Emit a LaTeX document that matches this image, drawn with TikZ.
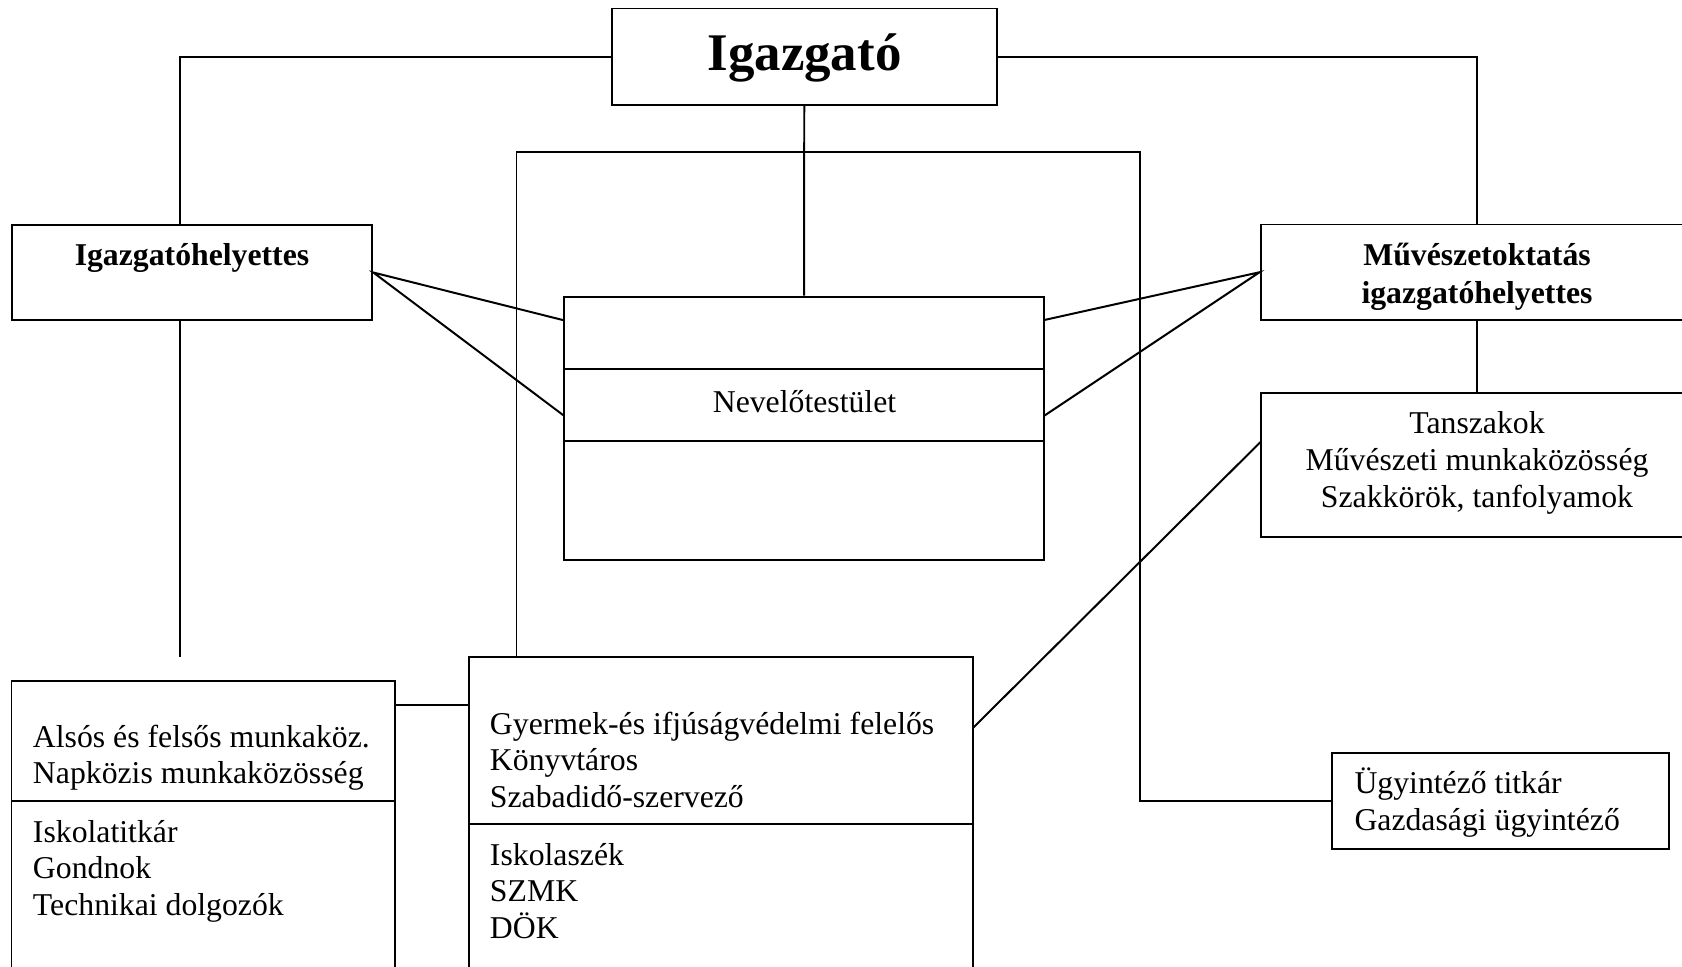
\documentclass[tikz,border=0pt]{standalone}
\usepackage{fontspec}
\setmainfont{Liberation Serif}
\usetikzlibrary{fit}

\tikzset{
  box/.style={draw, inner sep=0pt},
  txt/.style={inner sep=0pt, font=\fontsize{12}{14}\selectfont},
  btxt/.style={inner sep=0pt, font=\fontsize{12}{14}\selectfont\bfseries},
}

\begin{document}
\begin{tikzpicture}[x=0.378pt, y=-0.378pt, line width=0.75pt]
  \useasboundingbox (0,0) rectangle (1682,966);
  \clip (0,0) rectangle (1682,966);

  % boxes
  \node[box, fit={(612,8.5) (996.5,105)}] (igazgato) {};
  \node[box, fit={(12.3,224.7) (372.3,320.3)}] (igh) {};
  \node[box, fit={(1260.5,224.5) (1693.5,320)}] (muv) {};
  \node[box, fit={(564,296.7) (1044.3,368.7)}] (nev-top) {};
  \node[box, fit={(564,368.7) (1044.3,441)}] (nev) {};
  \node[box, fit={(564,441) (1044.3,560.3)}] (nev-bot) {};
  \node[box, fit={(1260.5,392.7) (1693.5,536.7)}] (tansz) {};
  \node[box, fit={(11.5,680.7) (395.4,801)}] (alsos-top) {};
  \node[box, fit={(11.5,801) (395.4,1000)}] (alsos-bot) {};
  \node[box, fit={(468.7,656.7) (972.6,824)}] (gy-top) {};
  \node[box, fit={(468.7,824) (972.6,1000)}] (gy-bot) {};
  \node[box, fit={(1332,752.7) (1669,849)}] (ugy) {};

  % texts
  \node[inner sep=0pt, font=\fontsize{20}{24}\selectfont\bfseries, anchor=base] (igazgato-t) at (804.5,71) {Igazgató};
  \node[btxt, anchor=base] (igh-t) at (192,265) {Igazgatóhelyettes};
  \node[btxt, anchor=base] (muv-t1) at (1477,265) {Művészetoktatás};
  \node[btxt, anchor=base] (muv-t2) at (1477,303) {igazgatóhelyettes};
  \node[txt, anchor=base] (nev-t) at (804.5,412) {Nevelőtestület};
  \node[txt, anchor=base] (tansz-t1) at (1477,433) {Tanszakok};
  \node[txt, anchor=base] (tansz-t2) at (1477,470.5) {Művészeti munkaközösség};
  \node[txt, anchor=base] (tansz-t3) at (1477,507) {Szakkörök, tanfolyamok};
  \node[txt, anchor=base west] (alsos-t1) at (32,747) {Alsós és felsős munkaköz.};
  \node[txt, anchor=base west] (alsos-t2) at (32,783) {Napközis munkaközösség};
  \node[txt, anchor=base west] (alsos-t3) at (32,842) {Iskolatitkár};
  \node[txt, anchor=base west] (alsos-t4) at (32,878.5) {Gondnok};
  \node[txt, anchor=base west] (alsos-t5) at (32,915) {Technikai dolgozók};
  \node[txt, anchor=base west] (gy-t1) at (489,734) {Gyermek-és ifjúságvédelmi felelős};
  \node[txt, anchor=base west] (gy-t2) at (489,770.5) {Könyvtáros};
  \node[txt, anchor=base west] (gy-t3) at (489,807) {Szabadidő-szervező};
  \node[txt, anchor=base west] (gy-t4) at (489,865) {Iskolaszék};
  \node[txt, anchor=base west] (gy-t5) at (489,901.5) {SZMK};
  \node[txt, anchor=base west] (gy-t6) at (489,938.5) {DÖK};
  \node[txt, anchor=base west] (ugy-t1) at (1353.5,793.7) {Ügyintéző titkár};
  \node[txt, anchor=base west] (ugy-t2) at (1353.5,830) {Gazdasági ügyintéző};

  % free ends of the connectors
  \coordinate (igh-stem) at (180,0);
  \coordinate (igh-end) at (180,656.7);
  \coordinate (nev-a) at (564,320.3);
  \coordinate (nev-b) at (564,415.7);
  \coordinate (nev-c) at (1044.3,320);
  \coordinate (nev-d) at (1044.3,415.7);
  \coordinate (tansz-a) at (1260.5,442);
  \coordinate (gy-a) at (972.6,728.3);
  \coordinate (link) at (0,704.5);
  \coordinate (fr-l) at (516.5,152.3);
  \coordinate (fr-r) at (1140.3,152.3);

  % connectors
  \draw (igazgato.west) -| (igh.north -| igh-stem);
  \draw (igazgato.east) -| (muv.north);
  \draw (igazgato.south) -- (nev-top.north);
  \draw (igh.south -| igh-stem) -- (igh-end);
  \draw (muv.south) -- (tansz.north);
  \draw (nev-a) -- (igh.east) -- (nev-b);
  \draw (nev-c) -- (muv.west) -- (nev-d);
  \draw (tansz-a) -- (gy-a);
  \draw (alsos-top.east |- link) -- (gy-top.west |- link);
  \draw (gy-top.north -| fr-l) -- (fr-l) -- (fr-r) |- (ugy.west);
\end{tikzpicture}
\end{document}
